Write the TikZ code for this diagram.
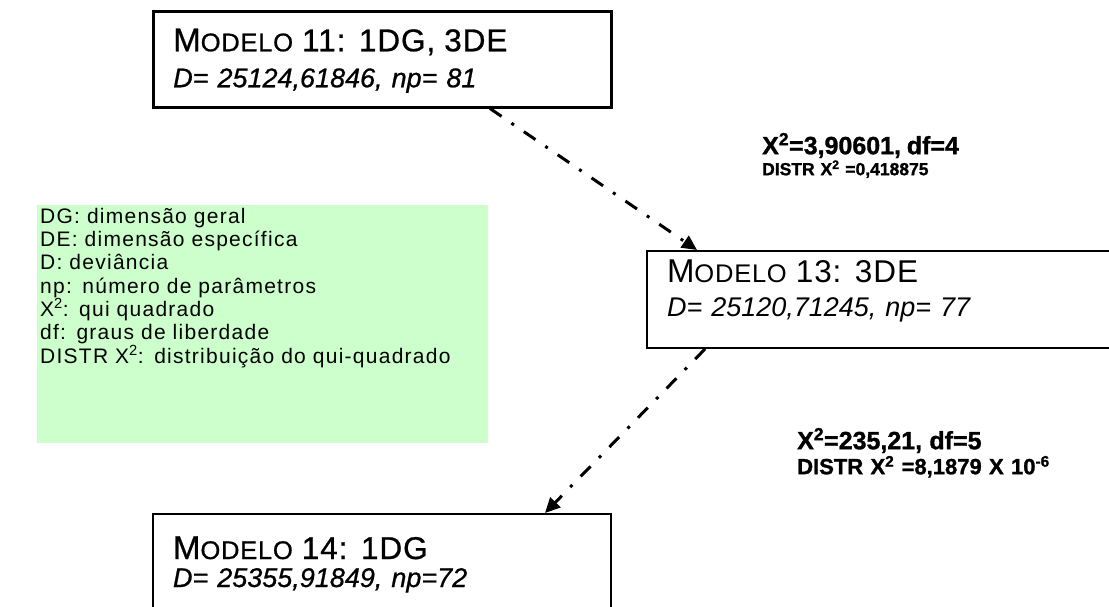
\documentclass[tikz,border=0pt]{standalone}
\usepackage{fontspec}
\setmainfont{Liberation Sans}
% print-like heavier face for the two outer model boxes
\newfontfamily\heavyfont[FakeBold=0.8]{Liberation Sans}
\newfontfamily\heavytitle[FakeBold=0.8,LetterSpace=3]{Liberation Sans}
\newfontfamily\plaintitle[LetterSpace=3]{Liberation Sans}
\newfontfamily\legendfont[LetterSpace=6]{Liberation Sans}
\newfontfamily\statfont[BoldFeatures={FakeBold=1.2}]{Liberation Sans}
\usetikzlibrary{arrows.meta,calc}
\definecolor{legendgreen}{HTML}{CCFFCC}
% "Modelo" in faked small capitals, followed by the model description
\newcommand{\modelname}[1]{\fontsize{33}{33}\selectfont M\fontsize{25.5}{25.5}\selectfont ODELO\fontsize{31.5}{31.5}\selectfont\ #1}
\begin{document}
\begin{tikzpicture}[x=1pt,y=-1pt,
  modelbox/.style={draw, line width=2pt, anchor=north west, align=left,
    inner xsep=20pt, inner ysep=0pt, fill=white},
  legendbox/.style={fill=legendgreen, anchor=north west, align=left,
    inner xsep=3pt, inner ysep=0pt, font=\legendfont\fontsize{21}{23.3}\selectfont},
  stat/.style={anchor=north west, align=left, inner sep=0pt, text width=320pt},
  link/.style={line width=3pt, dash pattern=on 14pt off 12pt on 3pt off 12pt,
    -{Triangle[length=15pt,width=14pt]}}
]
\useasboundingbox (0,0) rectangle (1109,606);
\clip (0,0) rectangle (1109,606);

% model boxes
\node[modelbox, line width=2.5pt, text width=418pt, text height=40pt, text depth=56pt,
  font=\fontsize{27}{36}\selectfont] (m11) at (152,10)
  {{\heavytitle\modelname{11: 1DG, 3DE}}\\ {\heavyfont\itshape D= 25124,61846, np= 81}};
\node[modelbox, text width=480pt, text height=31pt, text depth=66pt,
  font=\fontsize{27}{34}\selectfont] (m13) at (646,250)
  {{\plaintitle\modelname{13: 3DE}}\\ \textit{D= 25120,71245, np= 77}};
\node[modelbox, text width=418pt, text height=45pt, text depth=120pt,
  font=\fontsize{27}{28}\selectfont] (m14) at (152,513)
  {{\heavytitle\modelname{14: 1DG}}\\ {\heavyfont\itshape D= 25355,91849, np=72}};

% legend
\node[legendbox, text width=445pt, text height=18pt, text depth=220pt] (legend) at (37,205)
  {DG: dimensão geral\\
   DE: dimensão específica\\
   D: deviância\\
   np: número de parâmetros\\
   X\textsuperscript{2}: qui quadrado\\
   df: graus de liberdade\\
   DISTR X\textsuperscript{2}: distribuição do qui-quadrado};

% test statistics
\node[stat, text height=19pt, font=\statfont\bfseries\fontsize{17.5}{21}\selectfont] (s1) at (762,135)
  {{\fontsize{25}{25}\selectfont X\textsuperscript{2}=3,90601, df=4}\\
   DISTR X\textsuperscript{2} =0,418875};
\node[stat, text height=19pt, font=\statfont\bfseries\fontsize{22}{25}\selectfont] (s2) at (797,430)
  {{\fontsize{25}{25}\selectfont X\textsuperscript{2}=235,21, df=5}\\
   DISTR X\textsuperscript{2} =8,1879 X 10\textsuperscript{-6}};

% comparisons between models
\draw[link] ([xshift=338pt]m11.south west) -- ([xshift=51pt]m13.north west);
\draw[link] ([xshift=59pt]m13.south west) -- ([xshift=393pt]m14.north west);
\end{tikzpicture}
\end{document}
